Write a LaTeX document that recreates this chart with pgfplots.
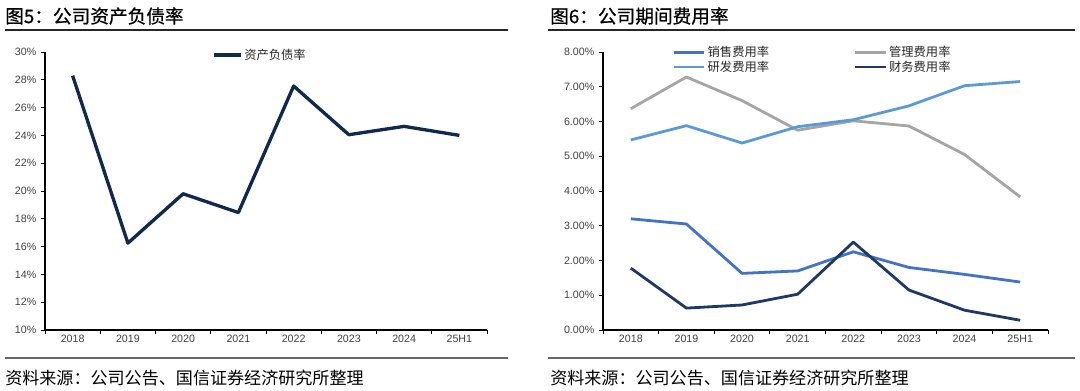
\documentclass[border=0pt]{standalone}
\usepackage{fontspec}
\setmainfont{Liberation Sans}
\newfontfamily\cjk{Noto Sans CJK SC}
\newfontfamily\cjkt[FakeBold=0.6]{Noto Sans CJK SC}
\usepackage{pgfplots}
\pgfplotsset{compat=1.18}
\definecolor{navyA}{HTML}{10294D}
\definecolor{sales}{HTML}{4472C4}
\definecolor{mgmt}{HTML}{A5A5A5}
\definecolor{rnd}{HTML}{5B9BD5}
\definecolor{fin}{HTML}{1F3864}
\pgfplotsset{
  panel/.style={
    scale only axis, height=208.5pt,
    axis lines=left, axis line style={-, line width=0.8pt, black},
    tick style={black, line width=0.6pt}, tick align=outside, major tick length=3pt,
    xmin=-0.5, xmax=7.5,
    xtick={-0.5,0.5,...,7.5}, xticklabels={},
    extra x ticks={0,...,7},
    extra x tick labels={2018,2019,2020,2021,2022,2023,2024,25H1},
    extra x tick style={major tick length=0pt},
    ticklabel style={font=\fontsize{8}{9}\selectfont, text=black!75},
    /pgf/number format/assume math mode=true,
    clip=false,
    legend style={draw=none, fill=none, inner sep=0pt, nodes={inner sep=1.5pt},
      font=\cjk\fontsize{9.2}{10}\selectfont, text=black!85},
  }
}
\begin{document}
\begin{tikzpicture}[x=0.75pt,y=0.75pt]
\path (0,0) rectangle (1080,390);
% titles
\node[anchor=west, inner sep=0] at (5,374) {\cjkt\fontsize{14}{16}\selectfont 图5：公司资产负债率};
\node[anchor=west, inner sep=0] at (550,374) {\cjkt\fontsize{14}{16}\selectfont 图6：公司期间费用率};
\draw[line width=1.1pt, black!85] (5,360) -- (508,360);
\draw[line width=1.1pt, black!85] (548,360) -- (1075,360);
\draw[line width=1.1pt, black!60] (5,32) -- (508,32);
\draw[line width=1.1pt, black!60] (548,32) -- (1075,32);
\node[anchor=west, inner sep=0] at (5,12) {\cjk\fontsize{12.8}{14}\selectfont 资料来源：公司公告、国信证券经济研究所整理};
\node[anchor=west, inner sep=0] at (550,12) {\cjk\fontsize{12.8}{14}\selectfont 资料来源：公司公告、国信证券经济研究所整理};

\begin{axis}[panel, at={(33.75pt,45pt)}, anchor=south west, width=331.5pt,
  ymin=10, ymax=30, ytick={10,12,...,30},
  yticklabel={\pgfmathprintnumber{\tick}\%},
  legend style={at={(0.378,0.989)}, anchor=west},
  legend image code/.code={\draw[#1, line width=2.5pt] (0pt,0pt) -- (20pt,0pt);}]
\addplot[navyA, line width=2.5pt, line join=round] coordinates {
 (0,28.3) (1,16.25) (2,19.8) (3,18.45) (4,27.55) (5,24.05) (6,24.65) (7,24.0)};
\addlegendentry{资产负债率}
\end{axis}

\begin{axis}[panel, at={(452.25pt,45pt)}, anchor=south west, width=333.75pt,
  ymin=0, ymax=8, ytick={0,...,8},
  yticklabel={\pgfmathprintnumber[fixed,fixed zerofill,precision=2]{\tick}\%},
  legend columns=2,
  legend style={at={(0.155,1.028)}, anchor=north west, /tikz/column 2/.style={column sep=62pt}, row sep=-1.5pt},
  legend image code/.code={\draw[#1, line width=2.1pt] (0pt,0pt) -- (23pt,0pt);}]
\addplot[sales, line width=2.1pt, line join=round] coordinates {
 (0,3.2) (1,3.05) (2,1.63) (3,1.7) (4,2.25) (5,1.8) (6,1.6) (7,1.38)};
\addlegendentry{销售费用率}
\addplot[mgmt, line width=2.1pt, line join=round] coordinates {
 (0,6.37) (1,7.28) (2,6.6) (3,5.75) (4,6.02) (5,5.87) (6,5.05) (7,3.83)};
\addlegendentry{管理费用率}
\addplot[rnd, line width=2.1pt, line join=round] coordinates {
 (0,5.47) (1,5.88) (2,5.38) (3,5.85) (4,6.05) (5,6.45) (6,7.03) (7,7.15)};
\addlegendentry{研发费用率}
\addplot[fin, line width=2.1pt, line join=round] coordinates {
 (0,1.78) (1,0.63) (2,0.72) (3,1.03) (4,2.53) (5,1.15) (6,0.57) (7,0.28)};
\addlegendentry{财务费用率}
\end{axis}
\end{tikzpicture}
\end{document}
